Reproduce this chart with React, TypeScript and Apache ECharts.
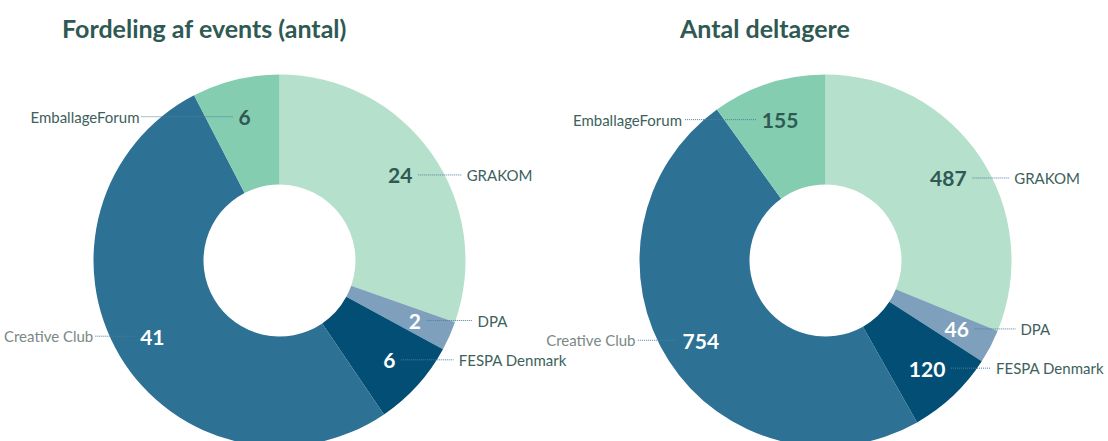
import React, { useEffect, useRef } from 'react';
import * as echarts from 'echarts';

const categories = ['GRAKOM', 'DPA', 'FESPA Denmark', 'Creative Club', 'EmballageForum'];
const eventCounts = [24, 2, 6, 41, 6];
const participantCounts = [487, 46, 120, 754, 155];
const chartTitles = ['Fordeling af events (antal)', 'Antal deltagere'];

const sliceColors = ['#b4e0cc', '#7fa0bc', '#034e74', '#2d7195', '#84cdb0'];
const valueLabelColors = ['#2f5953', '#ffffff', '#ffffff', '#ffffff', '#2f5953'];
const nameLabelColors = ['#3d615b', '#3d615b', '#3d615b', '#7a8886', '#3d615b'];

const FONT = 'Lato, "Noto Sans", sans-serif';
const centers = [
  [279.5, 260.5],
  [825.5, 260.5],
];
const R_OUT = 186;
const R_IN = 76;
const R_VALUE = 148;
const NAME_GAP = 22;
const EDGE_PAD = 4;
const titleLefts = [62, 680];

const datasets = [eventCounts, participantCounts];

function midAngle(values: number[], i: number) {
  const total = values.reduce((a, b) => a + b, 0);
  let before = 0;
  for (let k = 0; k < i; k++) before += values[k];
  return ((before + values[i] / 2) / total) * Math.PI * 2;
}

function valuePos(p: number, i: number) {
  const a = midAngle(datasets[p], i);
  const [cx, cy] = centers[p];
  return { a, x: cx + R_VALUE * Math.sin(a), y: cy - R_VALUE * Math.cos(a) };
}

export default function App() {
  const ref = useRef<HTMLDivElement>(null);
  useEffect(() => {
    if (!ref.current) return;
    const chart = echarts.init(ref.current, undefined, { renderer: 'svg' });
    const W = chart.getWidth();
    const series: any[] = [];
    datasets.forEach((values, p) => {
      const data = categories.map((name, i) => ({
        name,
        value: values[i],
        itemStyle: { color: sliceColors[i] },
      }));
      series.push({
        type: 'pie',
        center: centers[p],
        radius: [R_IN, R_OUT],
        startAngle: 90,
        clockwise: true,
        avoidLabelOverlap: false,
        silent: true,
        emphasis: { disabled: true },
        data: data.map((d, i) => ({
          ...d,
          label: { color: valueLabelColors[i] },
        })),
        label: {
          show: true,
          position: 'outside',
          formatter: '{c}',
          fontFamily: FONT,
          fontWeight: 'bold',
          fontSize: 21,
        },
        labelLine: { show: false },
        labelLayout: (params: any) => {
          const v = valuePos(p, params.dataIndex);
          return { x: v.x, y: v.y, align: 'center', verticalAlign: 'middle' };
        },
      });
      series.push({
        type: 'pie',
        center: centers[p],
        radius: [R_IN, R_OUT],
        startAngle: 90,
        clockwise: true,
        avoidLabelOverlap: false,
        silent: true,
        emphasis: { disabled: true },
        z: 3,
        data: data.map((d, i) => ({
          name: d.name,
          value: d.value,
          itemStyle: { color: 'rgba(0,0,0,0)' },
          label: { color: nameLabelColors[i] },
        })),
        label: {
          show: true,
          position: 'outside',
          formatter: '{b}',
          fontFamily: FONT,
          fontSize: 15,
        },
        labelLine: {
          show: true,
          length: 10,
          length2: 10,
          lineStyle: { type: 'dotted', width: 1, color: '#4d7f9c' },
        },
        labelLayout: (params: any) => {
          const i = params.dataIndex;
          const v = valuePos(p, i);
          const [cx, cy] = centers[p];
          const dy = v.y - cy;
          const edge = Math.sqrt(Math.max(R_OUT * R_OUT - dy * dy, 0));
          const right = Math.sin(v.a) >= 0;
          const tw = params.labelRect ? params.labelRect.width : 0;
          let nameX = right ? cx + edge + NAME_GAP : cx - edge - NAME_GAP;
          if (right) nameX = Math.min(nameX, W - tw - EDGE_PAD);
          else nameX = Math.max(nameX, tw + EDGE_PAD);
          const halfW = (String(values[i]).length * 12) / 2;
          const startX = right ? v.x + halfW + 6 : v.x - halfW - 6;
          const endX = right ? nameX - 5 : nameX + 2;
          return {
            x: nameX,
            y: v.y,
            align: right ? 'left' : 'right',
            verticalAlign: 'middle',
            labelLinePoints: [
              [startX, v.y],
              [(startX + endX) / 2, v.y],
              [endX, v.y],
            ],
          };
        },
      });
    });
    chart.setOption({
      animation: false,
      backgroundColor: '#ffffff',
      title: chartTitles.map((t, p) => ({
        text: t,
        left: titleLefts[p],
        top: 15,
        padding: 0,
        textStyle: { fontFamily: FONT, fontSize: 25, fontWeight: 'bold', color: '#2f5953' },
      })),
      series,
    });
    return () => chart.dispose();
  }, []);
  return (
    <div
      ref={ref}
      style={{ position: 'absolute', left: 0, top: 0, width: 1108, height: 441 }}
    />
  );
}
